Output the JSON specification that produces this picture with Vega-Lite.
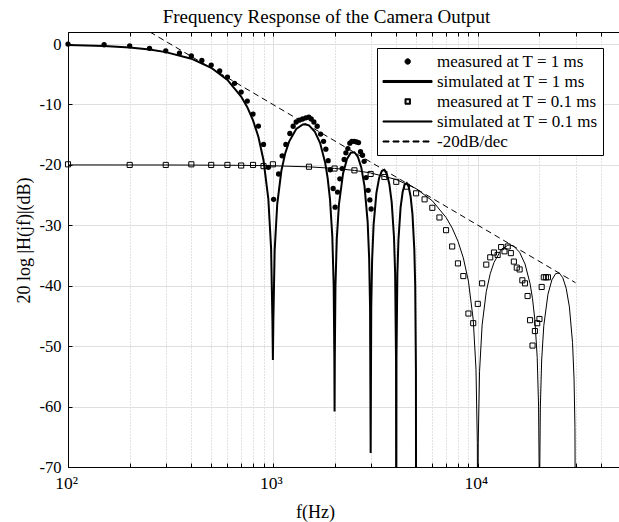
{
  "$schema": "https://vega.github.io/schema/vega-lite/v6.json",
  "width": 553,
  "height": 435,
  "autosize": {"type": "none"},
  "padding": {"left": 68, "top": 32, "right": 0, "bottom": 55},
  "background": "white",
  "title": {"text": "Frequency Response of the Camera Output", "font": "Liberation Serif", "fontSize": 19, "fontWeight": "normal", "color": "black", "anchor": "middle", "dx": -18, "offset": 5},
  "config": {"view": {"stroke": "black", "strokeWidth": 1}, "font": "Liberation Serif"},
  "datasets": {
    "simT1": [
      {"f":100,"db":-0.14},{"f":150,"db":-0.32},{"f":200,"db":-0.58},{"f":250,"db":-0.91},{"f":300,"db":-1.33},{"f":400,"db":-2.42},{"f":500,"db":-3.92},{"f":600,"db":-5.94},{"f":700,"db":-8.69},{"f":750,"db":-10.45},{"f":800,"db":-12.62},{"f":850,"db":-15.39},{"f":900,"db":-19.23},{"f":950,"db":-25.61},{"f":980,"db":-33.81},{"f":995,"db":-45.98},{"f":1000,"db":-52.3},{"f":1005,"db":-46.06},{"f":1020,"db":-34.16},{"f":1050,"db":-26.48},{"f":1100,"db":-20.97},{"f":1150,"db":-18.01},{"f":1200,"db":-16.14},{"f":1300,"db":-14.06},{"f":1400,"db":-13.3},{"f":1430,"db":-13.26},{"f":1500,"db":-13.46},{"f":1600,"db":-14.46},{"f":1700,"db":-16.39},{"f":1800,"db":-19.66},{"f":1850,"db":-22.15},{"f":1900,"db":-25.72},{"f":1950,"db":-31.86},{"f":1980,"db":-39.92},{"f":1995,"db":-52.02},{"f":2000,"db":-60.8},{"f":2005,"db":-52.06},{"f":2020,"db":-40.09},{"f":2050,"db":-32.29},{"f":2100,"db":-26.59},{"f":2200,"db":-21.41},{"f":2300,"db":-19.02},{"f":2400,"db":-17.98},{"f":2500,"db":-17.9},{"f":2600,"db":-18.68},{"f":2700,"db":-20.41},{"f":2800,"db":-23.5},{"f":2900,"db":-29.39},{"f":2950,"db":-35.45},{"f":2980,"db":-43.47},{"f":3000,"db":-67.7},{"f":3020,"db":-43.59},{"f":3050,"db":-35.74},{"f":3100,"db":-29.97},{"f":3200,"db":-24.66},{"f":3300,"db":-22.15},{"f":3400,"db":-21.01},{"f":3500,"db":-20.82},{"f":3600,"db":-21.5},{"f":3700,"db":-23.15},{"f":3800,"db":-26.15},{"f":3900,"db":-31.97},{"f":3950,"db":-37.99},{"f":3990,"db":-52.02},{"f":4000,"db":-90},{"f":4010,"db":-52.07},{"f":4050,"db":-38.21},{"f":4100,"db":-32.4},{"f":4200,"db":-27.02},{"f":4300,"db":-24.45},{"f":4400,"db":-23.25},{"f":4500,"db":-23.01},{"f":4600,"db":-23.63},{"f":4700,"db":-25.23},{"f":4800,"db":-28.18},{"f":4900,"db":-33.95},{"f":4950,"db":-39.95},{"f":4990,"db":-53.96},{"f":5000,"db":-90}
    ],
    "simT01": [
      {"f":100,"db":-20.0},{"f":200,"db":-20.01},{"f":300,"db":-20.01},{"f":500,"db":-20.04},{"f":700,"db":-20.07},{"f":1000,"db":-20.14},{"f":1500,"db":-20.32},{"f":2000,"db":-20.58},{"f":2500,"db":-20.91},{"f":3000,"db":-21.33},{"f":4000,"db":-22.42},{"f":5000,"db":-23.92},{"f":6000,"db":-25.94},{"f":7000,"db":-28.69},{"f":7500,"db":-30.45},{"f":8000,"db":-32.62},{"f":8500,"db":-35.39},{"f":9000,"db":-39.23},{"f":9500,"db":-45.61},{"f":9800,"db":-53.81},{"f":9950,"db":-65.98},{"f":10000,"db":-90},{"f":10050,"db":-66.06},{"f":10200,"db":-54.16},{"f":10500,"db":-46.48},{"f":11000,"db":-40.97},{"f":11500,"db":-38.01},{"f":12000,"db":-36.14},{"f":13000,"db":-34.06},{"f":14000,"db":-33.3},{"f":14300,"db":-33.26},{"f":15000,"db":-33.46},{"f":16000,"db":-34.46},{"f":17000,"db":-36.39},{"f":18000,"db":-39.66},{"f":18500,"db":-42.15},{"f":19000,"db":-45.72},{"f":19500,"db":-51.86},{"f":19800,"db":-59.92},{"f":19950,"db":-72.0},{"f":20000,"db":-90},{"f":20050,"db":-72.1},{"f":20200,"db":-60.09},{"f":20500,"db":-52.29},{"f":21000,"db":-46.59},{"f":22000,"db":-41.41},{"f":23000,"db":-39.02},{"f":24000,"db":-37.98},{"f":25000,"db":-37.9},{"f":26000,"db":-38.68},{"f":27000,"db":-40.41},{"f":28000,"db":-43.5},{"f":29000,"db":-49.39},{"f":29500,"db":-55.45},{"f":29800,"db":-63.47},{"f":30000,"db":-90}
    ],
    "slope": [
      {"f":251,"db":2.0},{"f":30000,"db":-39.5}
    ],
    "measT1": [
      {"f":100,"db":0.0},{"f":150,"db":-0.11},{"f":200,"db":-0.28},{"f":250,"db":-0.71},{"f":300,"db":-1.11},{"f":350,"db":-1.49},{"f":400,"db":-1.94},{"f":450,"db":-2.7},{"f":500,"db":-3.48},{"f":550,"db":-4.42},{"f":600,"db":-5.46},{"f":650,"db":-6.5},{"f":700,"db":-7.94},{"f":750,"db":-9.43},{"f":800,"db":-11.58},{"f":850,"db":-13.57},{"f":900,"db":-16.6},{"f":950,"db":-20.4},{"f":1008,"db":-25.7},{"f":1066,"db":-21.5},{"f":1110,"db":-18.5},{"f":1157,"db":-16.6},{"f":1210,"db":-14.8},{"f":1256,"db":-13.6},{"f":1299,"db":-12.9},{"f":1344,"db":-12.6},{"f":1396,"db":-12.4},{"f":1449,"db":-12.2},{"f":1498,"db":-12.1},{"f":1538,"db":-12.4},{"f":1585,"db":-12.9},{"f":1645,"db":-13.6},{"f":1709,"db":-14.9},{"f":1767,"db":-16.1},{"f":1813,"db":-17.4},{"f":1861,"db":-19.3},{"f":1904,"db":-20.8},{"f":1968,"db":-23.9},{"f":2013,"db":-27.0},{"f":2068,"db":-24.5},{"f":2122,"db":-22.3},{"f":2178,"db":-20.6},{"f":2228,"db":-19.1},{"f":2271,"db":-18.0},{"f":2322,"db":-17.3},{"f":2375,"db":-16.4},{"f":2429,"db":-16.1},{"f":2493,"db":-16.1},{"f":2560,"db":-16.2},{"f":2618,"db":-16.3},{"f":2678,"db":-17.8},{"f":2739,"db":-18.4},{"f":2789,"db":-19.4},{"f":2852,"db":-22.1},{"f":2917,"db":-24.2},{"f":2973,"db":-25.8},{"f":3016,"db":-27.3}
    ],
    "measT01": [
      {"f":100,"db":-19.9},{"f":200,"db":-20.0},{"f":300,"db":-20.0},{"f":400,"db":-19.9},{"f":500,"db":-20.0},{"f":600,"db":-20.0},{"f":700,"db":-20.1},{"f":800,"db":-20.0},{"f":900,"db":-20.2},{"f":1000,"db":-19.9},{"f":1500,"db":-20.3},{"f":2000,"db":-20.6},{"f":2500,"db":-20.9},{"f":3000,"db":-21.5},{"f":3500,"db":-22.0},{"f":4000,"db":-22.8},{"f":4500,"db":-23.6},{"f":5000,"db":-24.7},{"f":5500,"db":-25.7},{"f":6000,"db":-27.1},{"f":6500,"db":-28.7},{"f":7000,"db":-30.8},{"f":7500,"db":-33.5},{"f":8000,"db":-36.3},{"f":8500,"db":-38.4},{"f":9000,"db":-44.6},{"f":9500,"db":-46.2},{"f":10000,"db":-43.0},{"f":10500,"db":-39.6},{"f":11000,"db":-36.5},{"f":11500,"db":-35.3},{"f":12000,"db":-34.5},{"f":12500,"db":-34.9},{"f":13000,"db":-33.6},{"f":13500,"db":-34.3},{"f":14000,"db":-33.5},{"f":14500,"db":-34.6},{"f":15000,"db":-36.0},{"f":15500,"db":-37.0},{"f":16000,"db":-37.3},{"f":16500,"db":-39.1},{"f":17000,"db":-39.6},{"f":17500,"db":-41.7},{"f":18000,"db":-45.7},{"f":18500,"db":-49.9},{"f":19000,"db":-47.5},{"f":19500,"db":-46.2},{"f":20000,"db":-45.5},{"f":20500,"db":-40.2},{"f":21000,"db":-38.6},{"f":21500,"db":-38.6},{"f":22000,"db":-38.6}
    ]
  },
  "encoding": {
    "y": {
      "field": "db", "type": "quantitative",
      "scale": {"domain": [-70, 2], "nice": false, "zero": false},
      "axis": {
        "values": [-70, -60, -50, -40, -30, -20, -10, 0],
        "labelExpr": "'' + datum.value",
        "grid": true, "gridColor": "#dfdfdf", "gridWidth": 1,
        "domainColor": "black", "tickColor": "black", "tickSize": -4,
        "labelPadding": 11, "labelFont": "Liberation Serif", "labelFontSize": 16.5, "labelColor": "black",
        "title": "20 log |H(jf)|(dB)", "titleFont": "Liberation Serif", "titleFontSize": 18, "titleFontWeight": "normal", "titleColor": "black",
        "titleX": -39, "titleY": 208, "titleAngle": 270, "titleAlign": "center", "titleBaseline": "alphabetic"
      }
    }
  },
  "layer": [
    {
      "data": {"name": "simT01"},
      "mark": {"type": "line", "strokeWidth": 1, "clip": true},
      "encoding": {
        "x": {
          "field": "f", "type": "quantitative",
          "scale": {"type": "log", "domain": [100, 50000], "nice": false},
          "axis": {
            "orient": "bottom",
            "values": [100,200,300,400,500,600,700,800,900,1000,2000,3000,4000,5000,6000,7000,8000,9000,10000,20000,30000,40000,50000],
            "labelExpr": "datum.value === 100 ? '10²' : datum.value === 1000 ? '10³' : datum.value === 10000 ? '10⁴' : ''",
            "labelOverlap": false, "labelFlush": false, "labelOffset": -2,
            "grid": true,
            "gridColor": {"condition": {"test": "datum.value === 100 || datum.value === 1000 || datum.value === 10000", "value": "#dfdfdf"}, "value": "#c4c4c4"},
            "gridDash": {"condition": {"test": "datum.value === 100 || datum.value === 1000 || datum.value === 10000", "value": []}, "value": [1, 2]},
            "domainColor": "black", "tickColor": "black", "tickSize": -4,
            "labelPadding": 11, "labelFont": "Liberation Serif", "labelFontSize": 17.5, "labelColor": "black",
            "title": "f(Hz)", "titleFont": "Liberation Serif", "titleFontSize": 18, "titleFontWeight": "normal", "titleColor": "black",
            "titleX": 247, "titleY": 50, "titleAlign": "center", "titleBaseline": "alphabetic"
          }
        },
        "color": {
          "datum": "simulated at T = 0.1 ms",
          "scale": {"domain": ["measured at T = 1 ms", "simulated at T = 1 ms", "measured at T = 0.1 ms", "simulated at T = 0.1 ms", "-20dB/dec"], "range": ["black", "black", "black", "black", "black"]},
          "legend": {
            "title": null, "orient": "none", "legendX": 309, "legendY": 16,
            "padding": 5, "rowPadding": 2, "strokeColor": "black", "fillColor": "white", "cornerRadius": 0,
            "symbolSize": 144, "symbolStrokeWidth": 1,
            "labelFont": "Liberation Serif", "labelFontSize": 17, "labelColor": "black", "labelOffset": 38, "labelLimit": 300,
            "encode": {
              "symbols": {
                "update": {
                  "shape": {"signal": "datum.value === 'measured at T = 1 ms' ? 'M2.42,0A0.45,0.45 0 1,1 3.32,0A0.45,0.45 0 1,1 2.42,0Z' : datum.value === 'measured at T = 0.1 ms' ? 'M2.42,-0.45H3.32V0.45H2.42Z M2.59,-0.28V0.28H3.15V-0.28Z' : datum.value === 'simulated at T = 1 ms' ? 'M-1.25,-0.17H6.92V0.17H-1.25Z' : datum.value === 'simulated at T = 0.1 ms' ? 'M-1.25,-0.09H6.92V0.09H-1.25Z' : 'M-1.25,-0.09H-0.25V0.09H-1.25Z M0.42,-0.09H1.42V0.09H0.42Z M2.08,-0.09H3.08V0.09H2.08Z M3.75,-0.09H4.75V0.09H3.75Z M5.42,-0.09H6.42V0.09H5.42Z'"},
                  "fill": {"value": "black"},
                  "stroke": {"value": "transparent"},
                  "opacity": {"value": 1}
                }
              }
            }
          }
        }
      }
    },
    {
      "data": {"name": "simT1"},
      "mark": {"type": "line", "strokeWidth": 2, "clip": true},
      "encoding": {
        "x": {"field": "f", "type": "quantitative", "scale": {"type": "log", "domain": [100, 50000], "nice": false}, "axis": null},
        "color": {"datum": "simulated at T = 1 ms", "scale": {"domain": ["measured at T = 1 ms", "simulated at T = 1 ms", "measured at T = 0.1 ms", "simulated at T = 0.1 ms", "-20dB/dec"], "range": ["black", "black", "black", "black", "black"]}}
      }
    },
    {
      "data": {"name": "slope"},
      "mark": {"type": "line", "strokeWidth": 1, "strokeDash": [6, 4], "clip": true},
      "encoding": {
        "x": {
          "field": "f", "type": "quantitative", "scale": {"type": "log", "domain": [100, 50000], "nice": false},
          "axis": {
            "orient": "top",
            "values": [100,200,300,400,500,600,700,800,900,1000,2000,3000,4000,5000,6000,7000,8000,9000,10000,20000,30000,40000,50000],
            "labels": false, "grid": false, "ticks": true, "tickSize": -4, "tickColor": "black", "domain": true, "domainColor": "black", "title": null
          }
        },
        "color": {"datum": "-20dB/dec", "scale": {"domain": ["measured at T = 1 ms", "simulated at T = 1 ms", "measured at T = 0.1 ms", "simulated at T = 0.1 ms", "-20dB/dec"], "range": ["black", "black", "black", "black", "black"]}}
      }
    },
    {
      "data": {"name": "measT01"},
      "mark": {"type": "point", "shape": "square", "filled": false, "size": 26, "strokeWidth": 1, "opacity": 1},
      "encoding": {
        "x": {"field": "f", "type": "quantitative", "scale": {"type": "log", "domain": [100, 50000], "nice": false}, "axis": null},
        "color": {"datum": "measured at T = 0.1 ms", "scale": {"domain": ["measured at T = 1 ms", "simulated at T = 1 ms", "measured at T = 0.1 ms", "simulated at T = 0.1 ms", "-20dB/dec"], "range": ["black", "black", "black", "black", "black"]}}
      }
    },
    {
      "data": {"name": "measT1"},
      "mark": {"type": "point", "shape": "circle", "filled": true, "size": 28, "opacity": 1},
      "encoding": {
        "x": {"field": "f", "type": "quantitative", "scale": {"type": "log", "domain": [100, 50000], "nice": false}, "axis": null},
        "color": {"datum": "measured at T = 1 ms", "scale": {"domain": ["measured at T = 1 ms", "simulated at T = 1 ms", "measured at T = 0.1 ms", "simulated at T = 0.1 ms", "-20dB/dec"], "range": ["black", "black", "black", "black", "black"]}}
      }
    }
  ],
  "resolve": {"axis": {"x": "independent"}}
}
